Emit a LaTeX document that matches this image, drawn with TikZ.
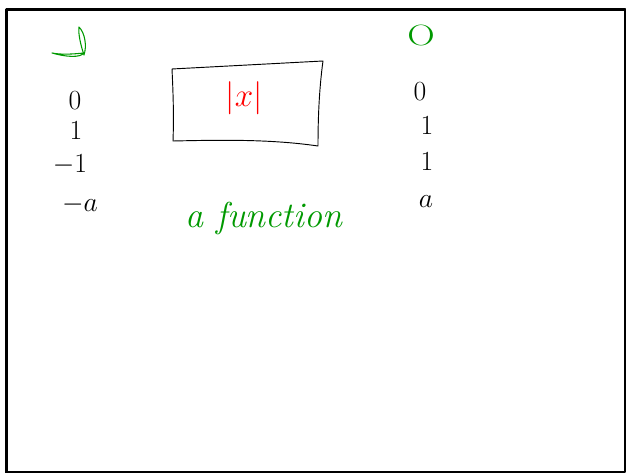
\documentclass[tikz,border=0pt]{standalone}
\begin{document}
\begin{tikzpicture}[x=0.75pt,y=-0.75pt,line cap=round,line join=round,
  every node/.style={font=\fontsize{20}{24}\selectfont,inner sep=0pt},
  ink/.style={black,line width=0.7pt},
  pen/.style={green!60!black,line width=0.8pt}]
\useasboundingbox (0,0) rectangle (626,473);
% frame
\draw[line width=2.4pt] (6.5,473) -- (6.5,9.5) -- (625,9.5);
\draw[line width=1.5pt] (625,9.5) -- (625,472.5) -- (6.5,472.5);
% left column
\draw[pen] (84,55) .. controls (81,46) and (78,34) .. (79,27)
  .. controls (85,33) and (87,46) .. (84,55);
\draw[pen] (52,53) .. controls (62,55) and (74,54) .. (84,53)
  .. controls (80,58) and (66,57) .. (52,53);
\node (l0) at (75,101) {$0$};
\node (l1) at (76,131) {$1$};
\node (lm1) at (70,165) {$-1$};
\node (lma) at (80,205) {$-a$};
% the box
\coordinate (b1) at (172,69);
\coordinate (b2) at (323,61);
\coordinate (b3) at (318,146);
\coordinate (b4) at (173,141);
\draw[ink] (b1) -- (b2) .. controls (319,90) and (318,120) .. (b3)
  .. controls (270,139) and (220,140) .. (b4) .. controls (174,115) and (173,90) .. (b1);
\node[red,font=\fontsize{30}{34}\selectfont] (fx) at (244,98) {$|x|$};
\node[green!60!black,font=\fontsize{27}{31}\selectfont\itshape] (fn) at (264,219) {a function};
% right column
\node[green!60!black,font=\fontsize{22}{26}\selectfont,xscale=1.3] (rO) at (421,35) {O};
\node (r0) at (420,92) {$0$};
\node (r1) at (427,126) {$1$};
\node (r2) at (427,162) {$1$};
\node (ra) at (426,202) {$a$};
\end{tikzpicture}
\end{document}
